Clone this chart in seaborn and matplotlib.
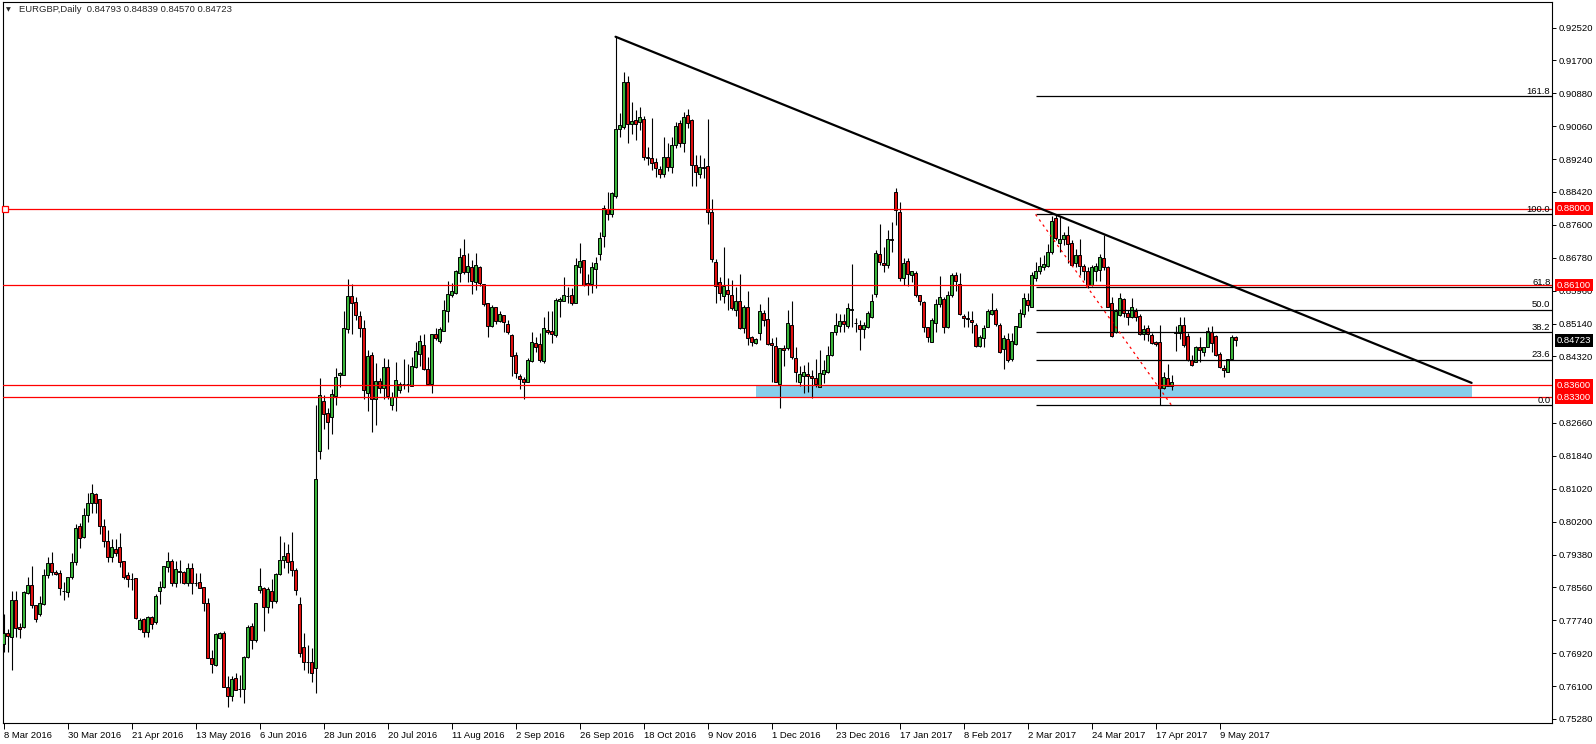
# ============================================================
#  EURGBP DAILY - candlestick chart with levels, fib and trendline
# ============================================================

import numpy as np
import matplotlib
matplotlib.use('Agg')
import matplotlib.pyplot as plt
import matplotlib.transforms as mtransforms
from matplotlib.patches import Rectangle
import seaborn as sns

# ============================================================
#  DATA (one value per daily bar)
# ============================================================

opens = [
    0.7714, 0.7743, 0.7732, 0.7825, 0.7758, 0.7758, 0.7841, 0.7862, 0.7811, 0.7790,
    0.7815, 0.7886, 0.7916, 0.7894, 0.7891, 0.7848, 0.7844, 0.7881, 0.7919, 0.8008,
    0.7981, 0.8037, 0.8067, 0.8089, 0.8076, 0.8009, 0.7973, 0.7933, 0.7953, 0.7956,
    0.7922, 0.7887, 0.7878, 0.7880, 0.7752, 0.7777, 0.7744, 0.7782, 0.7769, 0.7848,
    0.7857, 0.7906, 0.7922, 0.7868, 0.7896, 0.7894, 0.7868, 0.7904, 0.7868, 0.7869,
    0.7856, 0.7816, 0.7679, 0.7662, 0.7729, 0.7742, 0.7609, 0.7585, 0.7629, 0.7604,
    0.7604, 0.7682, 0.7761, 0.7724, 0.7850, 0.7855, 0.7806, 0.7847, 0.7821, 0.7889,
    0.7925, 0.7941, 0.7922, 0.7900, 0.7814, 0.7707, 0.7671, 0.7670, 0.7654, 0.8197,
    0.8322, 0.8292, 0.8280, 0.8334, 0.8385, 0.8385, 0.8500, 0.8583, 0.8568, 0.8532,
    0.8502, 0.8342, 0.8436, 0.8327, 0.8370, 0.8352, 0.8405, 0.8310, 0.8331, 0.8347,
    0.8363, 0.8362, 0.8359, 0.8405, 0.8438, 0.8460, 0.8400, 0.8363, 0.8488, 0.8471,
    0.8496, 0.8544, 0.8584, 0.8591, 0.8639, 0.8685, 0.8642, 0.8655, 0.8618, 0.8655,
    0.8612, 0.8565, 0.8508, 0.8554, 0.8520, 0.8535, 0.8514, 0.8485, 0.8435, 0.8384,
    0.8375, 0.8369, 0.8421, 0.8465, 0.8463, 0.8421, 0.8498, 0.8495, 0.8485, 0.8571,
    0.8571, 0.8582, 0.8585, 0.8566, 0.8654, 0.8672, 0.8614, 0.8613, 0.8650, 0.8688,
    0.8731, 0.8800, 0.8786, 0.8833, 0.8999, 0.9005, 0.9115, 0.9012, 0.9021, 0.9017,
    0.9023, 0.8929, 0.8926, 0.8916, 0.8898, 0.8887, 0.8930, 0.8905, 0.8958, 0.9013,
    0.8965, 0.9034, 0.9021, 0.8909, 0.8887, 0.8905, 0.8907, 0.8791, 0.8667, 0.8617,
    0.8583, 0.8598, 0.8585, 0.8548, 0.8569, 0.8502, 0.8555, 0.8480, 0.8465, 0.8490,
    0.8540, 0.8525, 0.8465, 0.8457, 0.8362, 0.8452, 0.8452, 0.8510, 0.8428, 0.8367,
    0.8382, 0.8388, 0.8382, 0.8378, 0.8356, 0.8387, 0.8393, 0.8436, 0.8492, 0.8509,
    0.8520, 0.8509, 0.8548, 0.8515, 0.8511, 0.8500, 0.8505, 0.8530, 0.8588, 0.8687,
    0.8666, 0.8660, 0.8724, 0.8842, 0.8793, 0.8627, 0.8670, 0.8634, 0.8641, 0.8584,
    0.8567, 0.8505, 0.8469, 0.8515, 0.8562, 0.8575, 0.8505, 0.8584, 0.8635, 0.8612,
    0.8533, 0.8527, 0.8523, 0.8511, 0.8457, 0.8479, 0.8505, 0.8537, 0.8548, 0.8510,
    0.8450, 0.8475, 0.8425, 0.8462, 0.8506, 0.8538, 0.8573, 0.8555, 0.8627, 0.8646,
    0.8656, 0.8658, 0.8693, 0.8778, 0.8714, 0.8724, 0.8735, 0.8714, 0.8665, 0.8685,
    0.8658, 0.8646, 0.8610, 0.8646, 0.8648, 0.8678, 0.8656, 0.8564, 0.8494, 0.8536,
    0.8574, 0.8540, 0.8529, 0.8546, 0.8533, 0.8488, 0.8504, 0.8485, 0.8467, 0.8467,
    0.8353, 0.8378, 0.8357, 0.8491, 0.8491, 0.8510, 0.8483, 0.8423, 0.8419, 0.8455,
    0.8444, 0.8456, 0.8494, 0.8482, 0.8438, 0.8402, 0.8394, 0.8425, 0.84793,
]

highs = [
    0.7790, 0.7753, 0.7846, 0.7846, 0.7767, 0.7846, 0.7883, 0.7909, 0.7812, 0.7835,
    0.7903, 0.7931, 0.7944, 0.7899, 0.7899, 0.7870, 0.7883, 0.7941, 0.8014, 0.8016,
    0.8053, 0.8092, 0.8114, 0.8092, 0.8076, 0.8026, 0.7998, 0.7976, 0.7976, 0.7991,
    0.7922, 0.7894, 0.7891, 0.7880, 0.7781, 0.7781, 0.7785, 0.7785, 0.7839, 0.7872,
    0.7909, 0.7944, 0.7926, 0.7922, 0.7924, 0.7897, 0.7916, 0.7916, 0.7891, 0.7891,
    0.7858, 0.7829, 0.7700, 0.7742, 0.7746, 0.7747, 0.7634, 0.7636, 0.7642, 0.7638,
    0.7685, 0.7762, 0.7767, 0.7818, 0.7905, 0.7858, 0.7858, 0.7877, 0.7891, 0.7984,
    0.7970, 0.7964, 0.7993, 0.7904, 0.7831, 0.7742, 0.7713, 0.7704, 0.8311, 0.8377,
    0.8336, 0.8303, 0.8350, 0.8402, 0.8394, 0.8546, 0.8624, 0.8613, 0.8581, 0.8546,
    0.8523, 0.8448, 0.8444, 0.8415, 0.8377, 0.8427, 0.8425, 0.8344, 0.8417, 0.8369,
    0.8425, 0.8413, 0.8430, 0.8467, 0.8485, 0.8489, 0.8431, 0.8489, 0.8502, 0.8506,
    0.8573, 0.8621, 0.8614, 0.8647, 0.8703, 0.8725, 0.8689, 0.8672, 0.8689, 0.8657,
    0.8612, 0.8565, 0.8560, 0.8554, 0.8546, 0.8535, 0.8523, 0.8489, 0.8444, 0.8388,
    0.8381, 0.8427, 0.8494, 0.8481, 0.8491, 0.8531, 0.8544, 0.8544, 0.8577, 0.8581,
    0.8631, 0.8606, 0.8602, 0.8677, 0.8714, 0.8672, 0.8637, 0.8667, 0.8681, 0.8743,
    0.8809, 0.8841, 0.8843, 0.9228, 0.9038, 0.9142, 0.9130, 0.9067, 0.9046, 0.9055,
    0.9031, 0.8955, 0.9026, 0.8926, 0.8907, 0.8978, 0.8963, 0.8980, 0.9017, 0.9021,
    0.9042, 0.9048, 0.9023, 0.8934, 0.8934, 0.8926, 0.9023, 0.8824, 0.8674, 0.8631,
    0.8704, 0.8627, 0.8623, 0.8604, 0.8637, 0.8560, 0.8594, 0.8483, 0.8477, 0.8563,
    0.8548, 0.8580, 0.8477, 0.8480, 0.8452, 0.8461, 0.8548, 0.8571, 0.8455, 0.8407,
    0.8411, 0.8419, 0.8398, 0.8425, 0.8448, 0.8423, 0.8457, 0.8494, 0.8540, 0.8537,
    0.8537, 0.8564, 0.8663, 0.8527, 0.8523, 0.8519, 0.8544, 0.8587, 0.8697, 0.8763,
    0.8704, 0.8747, 0.8768, 0.8853, 0.8818, 0.8677, 0.8677, 0.8646, 0.8645, 0.8585,
    0.8571, 0.8506, 0.8527, 0.8574, 0.8633, 0.8579, 0.8596, 0.8641, 0.8643, 0.8639,
    0.8538, 0.8546, 0.8544, 0.8515, 0.8485, 0.8510, 0.8549, 0.8589, 0.8552, 0.8515,
    0.8485, 0.8491, 0.8491, 0.8508, 0.8549, 0.8589, 0.8589, 0.8643, 0.8668, 0.8681,
    0.8685, 0.8712, 0.8782, 0.8787, 0.8782, 0.8743, 0.8757, 0.8722, 0.8701, 0.8724,
    0.8663, 0.8654, 0.8660, 0.8666, 0.8687, 0.8735, 0.8657, 0.8581, 0.8550, 0.8589,
    0.8577, 0.8548, 0.8577, 0.8552, 0.8538, 0.8510, 0.8510, 0.8490, 0.8471, 0.8510,
    0.8392, 0.8413, 0.8386, 0.8508, 0.8530, 0.8531, 0.8491, 0.8436, 0.8458, 0.8481,
    0.8456, 0.8506, 0.8508, 0.8486, 0.8444, 0.8411, 0.8425, 0.8486, 0.84839,
]

lows = [
    0.7696, 0.7696, 0.7649, 0.7733, 0.7731, 0.7756, 0.7839, 0.7804, 0.7770, 0.7785,
    0.7812, 0.7879, 0.7887, 0.7887, 0.7837, 0.7825, 0.7833, 0.7877, 0.7912, 0.7955,
    0.7978, 0.8020, 0.8041, 0.8042, 0.7989, 0.7956, 0.7920, 0.7920, 0.7934, 0.7908,
    0.7877, 0.7856, 0.7850, 0.7778, 0.7750, 0.7732, 0.7733, 0.7752, 0.7766, 0.7815,
    0.7854, 0.7895, 0.7860, 0.7858, 0.7866, 0.7864, 0.7860, 0.7840, 0.7860, 0.7854,
    0.7796, 0.7679, 0.7642, 0.7660, 0.7727, 0.7607, 0.7559, 0.7574, 0.7600, 0.7582,
    0.7569, 0.7679, 0.7702, 0.7721, 0.7841, 0.7748, 0.7792, 0.7804, 0.7816, 0.7887,
    0.7905, 0.7891, 0.7885, 0.7837, 0.7683, 0.7650, 0.7642, 0.7619, 0.7594, 0.8175,
    0.8251, 0.8202, 0.8238, 0.8311, 0.8355, 0.8385, 0.8491, 0.8488, 0.8523, 0.8481,
    0.8326, 0.8297, 0.8244, 0.8261, 0.8340, 0.8326, 0.8327, 0.8298, 0.8297, 0.8340,
    0.8350, 0.8344, 0.8357, 0.8402, 0.8409, 0.8398, 0.8361, 0.8342, 0.8474, 0.8466,
    0.8496, 0.8519, 0.8581, 0.8588, 0.8618, 0.8637, 0.8617, 0.8588, 0.8597, 0.8608,
    0.8558, 0.8481, 0.8506, 0.8514, 0.8517, 0.8494, 0.8489, 0.8384, 0.8377, 0.8350,
    0.8327, 0.8367, 0.8419, 0.8444, 0.8419, 0.8416, 0.8489, 0.8465, 0.8481, 0.8531,
    0.8571, 0.8564, 0.8560, 0.8564, 0.8641, 0.8608, 0.8585, 0.8590, 0.8602, 0.8673,
    0.8706, 0.8772, 0.8780, 0.8827, 0.8978, 0.8998, 0.8965, 0.8987, 0.8972, 0.8996,
    0.8922, 0.8909, 0.8897, 0.8879, 0.8878, 0.8880, 0.8895, 0.8890, 0.8951, 0.8955,
    0.8942, 0.9001, 0.8857, 0.8857, 0.8876, 0.8876, 0.8761, 0.8668, 0.8564, 0.8573,
    0.8566, 0.8548, 0.8548, 0.8533, 0.8500, 0.8490, 0.8461, 0.8458, 0.8463, 0.8473,
    0.8508, 0.8461, 0.8367, 0.8367, 0.8303, 0.8407, 0.8448, 0.8425, 0.8369, 0.8357,
    0.8340, 0.8344, 0.8328, 0.8355, 0.8355, 0.8365, 0.8390, 0.8432, 0.8485, 0.8494,
    0.8494, 0.8504, 0.8506, 0.8492, 0.8447, 0.8478, 0.8502, 0.8527, 0.8581, 0.8660,
    0.8643, 0.8652, 0.8693, 0.8760, 0.8621, 0.8610, 0.8608, 0.8618, 0.8581, 0.8560,
    0.8494, 0.8467, 0.8467, 0.8494, 0.8555, 0.8491, 0.8502, 0.8581, 0.8594, 0.8535,
    0.8506, 0.8506, 0.8491, 0.8455, 0.8455, 0.8455, 0.8505, 0.8535, 0.8509, 0.8440,
    0.8400, 0.8419, 0.8421, 0.8461, 0.8505, 0.8531, 0.8544, 0.8555, 0.8619, 0.8638,
    0.8647, 0.8654, 0.8687, 0.8722, 0.8693, 0.8710, 0.8666, 0.8657, 0.8656, 0.8635,
    0.8623, 0.8602, 0.8608, 0.8619, 0.8619, 0.8648, 0.8554, 0.8481, 0.8491, 0.8533,
    0.8530, 0.8510, 0.8527, 0.8521, 0.8485, 0.8473, 0.8471, 0.8463, 0.8459, 0.8311,
    0.8350, 0.8357, 0.8348, 0.8446, 0.8475, 0.8456, 0.8421, 0.8408, 0.8417, 0.8419,
    0.8432, 0.8456, 0.8444, 0.8433, 0.8403, 0.8380, 0.8392, 0.8423, 0.84570,
]

closes = [
    0.7742, 0.7734, 0.7825, 0.7754, 0.7753, 0.7844, 0.7862, 0.7811, 0.7778, 0.7816,
    0.7887, 0.7916, 0.7894, 0.7890, 0.7854, 0.7847, 0.7881, 0.7920, 0.8003, 0.7980,
    0.8037, 0.8066, 0.8091, 0.8066, 0.8010, 0.7973, 0.7933, 0.7956, 0.7943, 0.7920,
    0.7883, 0.7878, 0.7877, 0.7781, 0.7776, 0.7744, 0.7782, 0.7766, 0.7835, 0.7857,
    0.7909, 0.7922, 0.7868, 0.7902, 0.7895, 0.7868, 0.7904, 0.7868, 0.7867, 0.7855,
    0.7816, 0.7679, 0.7664, 0.7740, 0.7742, 0.7607, 0.7585, 0.7628, 0.7601, 0.7603,
    0.7682, 0.7758, 0.7725, 0.7816, 0.7859, 0.7806, 0.7852, 0.7823, 0.7889, 0.7924,
    0.7934, 0.7920, 0.7900, 0.7850, 0.7693, 0.7669, 0.7670, 0.7642, 0.8126, 0.8336,
    0.8288, 0.8268, 0.8338, 0.8380, 0.8390, 0.8502, 0.8583, 0.8566, 0.8534, 0.8504,
    0.8347, 0.8433, 0.8327, 0.8370, 0.8352, 0.8405, 0.8334, 0.8331, 0.8373, 0.8363,
    0.8362, 0.8363, 0.8408, 0.8446, 0.8470, 0.8400, 0.8363, 0.8488, 0.8477, 0.8500,
    0.8548, 0.8588, 0.8595, 0.8645, 0.8680, 0.8642, 0.8657, 0.8621, 0.8660, 0.8616,
    0.8563, 0.8508, 0.8554, 0.8520, 0.8537, 0.8517, 0.8492, 0.8434, 0.8390, 0.8376,
    0.8369, 0.8423, 0.8468, 0.8456, 0.8423, 0.8502, 0.8492, 0.8489, 0.8573, 0.8575,
    0.8585, 0.8583, 0.8566, 0.8660, 0.8671, 0.8610, 0.8610, 0.8654, 0.8664, 0.8727,
    0.8801, 0.8786, 0.8839, 0.8999, 0.9009, 0.9115, 0.9012, 0.9019, 0.9011, 0.9028,
    0.8928, 0.8926, 0.8915, 0.8901, 0.8887, 0.8930, 0.8903, 0.8959, 0.9006, 0.8965,
    0.9028, 0.9015, 0.8909, 0.8893, 0.8904, 0.8901, 0.8791, 0.8674, 0.8608, 0.8589,
    0.8608, 0.8588, 0.8552, 0.8569, 0.8504, 0.8556, 0.8477, 0.8469, 0.8475, 0.8544,
    0.8523, 0.8462, 0.8461, 0.8369, 0.8452, 0.8448, 0.8515, 0.8430, 0.8393, 0.8388,
    0.8393, 0.8382, 0.8379, 0.8363, 0.8390, 0.8398, 0.8436, 0.8492, 0.8510, 0.8520,
    0.8512, 0.8552, 0.8549, 0.8516, 0.8500, 0.8511, 0.8540, 0.8570, 0.8689, 0.8667,
    0.8660, 0.8724, 0.8722, 0.8797, 0.8627, 0.8666, 0.8638, 0.8644, 0.8584, 0.8569,
    0.8505, 0.8480, 0.8522, 0.8563, 0.8579, 0.8505, 0.8585, 0.8635, 0.8620, 0.8537,
    0.8527, 0.8526, 0.8517, 0.8457, 0.8481, 0.8502, 0.8545, 0.8548, 0.8512, 0.8444,
    0.8477, 0.8423, 0.8471, 0.8508, 0.8539, 0.8577, 0.8561, 0.8635, 0.8645, 0.8657,
    0.8662, 0.8693, 0.8770, 0.8726, 0.8724, 0.8735, 0.8712, 0.8660, 0.8685, 0.8658,
    0.8646, 0.8610, 0.8654, 0.8657, 0.8681, 0.8654, 0.8556, 0.8483, 0.8544, 0.8577,
    0.8540, 0.8531, 0.8554, 0.8531, 0.8488, 0.8500, 0.8488, 0.8466, 0.8462, 0.8353,
    0.8380, 0.8358, 0.8368, 0.8494, 0.8510, 0.8461, 0.8423, 0.8411, 0.8456, 0.8447,
    0.8455, 0.8496, 0.8465, 0.8436, 0.8405, 0.8397, 0.8425, 0.8480, 0.84723,
]

# date labels on the time axis (bar index -> label)
date_bars = [0, 16, 32, 48, 64, 80, 96, 112, 128, 144,
             160, 176, 192, 208, 224, 240, 256, 272, 288, 304]
date_labels = ['8 Mar 2016', '30 Mar 2016', '21 Apr 2016', '13 May 2016', '6 Jun 2016',
               '28 Jun 2016', '20 Jul 2016', '11 Aug 2016', '2 Sep 2016', '26 Sep 2016',
               '18 Oct 2016', '9 Nov 2016', '1 Dec 2016', '23 Dec 2016', '17 Jan 2017',
               '8 Feb 2017', '2 Mar 2017', '24 Mar 2017', '17 Apr 2017', '9 May 2017']

price_labels = ['0.92520', '0.91700', '0.90880', '0.90060', '0.89240', '0.88420',
                '0.87600', '0.86780', '0.85960', '0.85140', '0.84320', '0.82660',
                '0.81840', '0.81020', '0.80200', '0.79380', '0.78560', '0.77740',
                '0.76920', '0.76100', '0.75280']

# support / resistance levels
red_levels = [0.8800, 0.8610, 0.8360, 0.8330]
red_level_labels = ['0.88000', '0.86100', '0.83600', '0.83300']
last_price = 0.84723

# fibonacci retracement (anchor bars and prices)
fib_bars = [258, 292]
fib_prices = [0.8786, 0.8310]
fib_ratios = [1.618, 1.0, 0.618, 0.5, 0.382, 0.236, 0.0]
fib_texts = ['161.8', '100.0', '61.8', '50.0', '38.2', '23.6', '0.0']

# descending trendline
trend_bars = [153, 367]
trend_prices = [0.9229, 0.8366]

# support zone
zone_bars = [188, 367]
zone_prices = [0.8330, 0.8360]

title_text = 'EURGBP,Daily  0.84793 0.84839 0.84570 0.84723'

# ============================================================
#  STYLE
# ============================================================

sns.set_style('white')
plt.rcParams['font.family'] = ['Liberation Sans', 'DejaVu Sans']
FS = 6.8
GREEN = '#3AB53A'
RED = '#E01010'

W, H = 1596, 744
fig = plt.figure(figsize=(W / 100, H / 100), dpi=100)
left_px, right_px, top_px, bottom_px = 2.7, 1552, 2, 723
ax = fig.add_axes([left_px / W, 1 - bottom_px / H,
                   (right_px - left_px) / W, (bottom_px - top_px) / H])

x = np.arange(len(closes))
o = np.array(opens)
h = np.array(highs)
l = np.array(lows)
c = np.array(closes)
print('bars:', len(o), len(h), len(l), len(c))

# ============================================================
#  DRAW
# ============================================================

# support zone (behind everything)
ax.add_patch(Rectangle((zone_bars[0], zone_prices[0]), zone_bars[1] - zone_bars[0],
                       zone_prices[1] - zone_prices[0], facecolor='#87CEEB',
                       edgecolor='none', zorder=1))

# candles
ax.vlines(x, l, h, color='black', linewidth=0.8, zorder=3)
body_col = np.where(c >= o, GREEN, RED)
ax.bar(x, np.abs(c - o), bottom=np.minimum(o, c), width=0.72, color=body_col,
       edgecolor='black', linewidth=0.7, zorder=4)

# horizontal levels
for lev in red_levels:
    ax.axhline(lev, color='red', linewidth=0.9, zorder=5)
ax.plot(0.4, red_levels[0], marker='s', ms=4, mfc='white', mec='red', mew=0.9,
        zorder=6, clip_on=False)

# fibonacci
xmax = 387.1
fib_range = fib_prices[0] - fib_prices[1]
for r, t in zip(fib_ratios, fib_texts):
    lev = fib_prices[1] + r * fib_range
    ax.hlines(lev, fib_bars[0], xmax, color='black', linewidth=0.9, zorder=5)
    ax.text(xmax - 0.4, lev + 0.0002, t, ha='right', va='bottom', fontsize=FS,
            color='black', zorder=6)
sns.lineplot(x=fib_bars, y=fib_prices, ax=ax, color='red', linewidth=0.9,
             linestyle=(0, (2, 3)), zorder=5)

# trendline
sns.lineplot(x=trend_bars, y=trend_prices, ax=ax, color='black', linewidth=1.6,
             zorder=6)

# ============================================================
#  AXES
# ============================================================

ax.set_xlim(-0.2, xmax)
ax.set_ylim(0.75180, 0.93156)

ax.set_xticks(date_bars)
ax.set_xticklabels(date_labels, ha='left')
ax.set_yticks([float(s) for s in price_labels])
ax.set_yticklabels(price_labels)
ax.yaxis.tick_right()
ax.tick_params(axis='y', direction='out', length=3, width=0.7, pad=2,
               labelsize=FS, colors='black', left=False, right=True)
ax.tick_params(axis='x', direction='out', length=4, width=0.7, pad=2,
               labelsize=FS, colors='black', bottom=True)
ax.set_xlabel('')
ax.set_ylabel('')
for s in ax.spines.values():
    s.set_color('black')
    s.set_linewidth(0.8)

# price boxes on the right scale
box_tr = mtransforms.blended_transform_factory(ax.transAxes, ax.transData)
box_x = 1.0 + 5 / (right_px - left_px)
for lev, txt in zip(red_levels, red_level_labels):
    ax.text(box_x, lev, txt, transform=box_tr, ha='left', va='center', fontsize=FS,
            color='white', clip_on=False, zorder=10,
            bbox=dict(boxstyle='square,pad=0.2', fc='red', ec='none'))
ax.text(box_x, last_price, '%.5f' % last_price, transform=box_tr, ha='left',
        va='center', fontsize=FS, color='white', clip_on=False, zorder=10,
        bbox=dict(boxstyle='square,pad=0.2', fc='black', ec='none'))

# title in the top-left corner
fig.text(6 / W, 1 - 10 / H, '\u25BC', fontsize=4.5, va='center', ha='left',
         family=['DejaVu Sans'])
fig.text(19 / W, 1 - 10 / H, title_text, fontsize=FS, va='center', ha='left')

plt.savefig('out.png', dpi=100)
print('saved out.png')
